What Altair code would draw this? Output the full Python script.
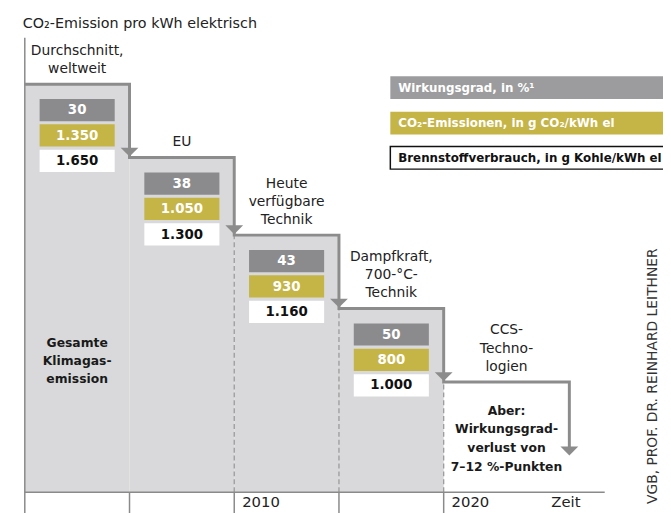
import altair as alt
import pandas as pd

# ---------------- Daten ----------------
titel = "CO₂-Emission pro kWh elektrisch"
stufen_namen = ["Durchschnitt,\nweltweit", "EU", "Heute\nverfügbare\nTechnik",
                "Dampfkraft,\n700-°C-\nTechnik", "CCS-\nTechno-\nlogien"]
stufen_von = [2000, 2005, 2010, 2015, 2020]
stufen_bis = [2005, 2010, 2015, 2020, 2026]
emission_niveau = [100, 82, 63, 45, 27]      # schematische Stufenhöhe
ccs_pfeil_bis = 9
wirkungsgrad = ["30", "38", "43", "50"]
co2_emission = ["1.350", "1.050", "930", "800"]
brennstoff = ["1.650", "1.300", "1.160", "1.000"]
zeit_ticks = [2005, 2010, 2015, 2020]
zeit_labels = ["", "2010", "", "2020"]
zeit_titel = "Zeit"
legende_texte = ["Wirkungsgrad, in %¹", "CO₂-Emissionen, in g CO₂/kWh el",
                 "Brennstoffverbrauch, in g Kohle/kWh el"]
gesamt_text = ["Gesamte", "Klimagas-", "emission"]
aber_text = ["Aber:", "Wirkungsgrad-", "verlust von", "7–12 %-Punkten"]
quelle = "VGB, PROF. DR. REINHARD LEITHNER"

# ---------------- Layout ----------------
W, H = 663, 505
PXX, X0 = 21.2, 17          # px per year, plot px of year 2000
PXY, Y0 = 4.13, 487         # px per level unit, plot px of level 0
xs = alt.Scale(domain=[2000 - X0 / PXX, 2000 + (W - X0) / PXX], nice=False, zero=False)
ys = alt.Scale(domain=[-(H - Y0) / PXY, Y0 / PXY], nice=False, zero=False)

def dx(p): return p / PXX
def dy(p): return p / PXY
def px_x(p): return 2000 + (p - 25) / PXX     # page px -> year
def px_y(p): return (495 - p) / PXY           # page px -> level

GRAU_FLAECHE = "#d9d9db"
GRAU_LINIE = "#8c8c8c"
GRAU_BOX = "#8b8b8d"
GOLD = "#c5b446"
FONT = "DejaVu Sans"

X = lambda f="x": alt.X(f"{f}:Q", scale=xs, axis=None)
Y = lambda f="y": alt.Y(f"{f}:Q", scale=ys, axis=None)

# gray area
fill_df = pd.DataFrame({"x": stufen_von[:4], "x2": stufen_bis[:4],
                        "y": [0] * 4, "y2": emission_niveau[:4]})
fill = alt.Chart(fill_df).mark_rect(color=GRAU_FLAECHE).encode(
    x=X(), x2="x2:Q", y=Y(), y2="y2:Q")

# dashed verticals
dash_df = pd.DataFrame({"x": stufen_von[2:], "y": [0] * 3, "y2": emission_niveau[2:]})
dashes = alt.Chart(dash_df).mark_rule(color="#9a9a9a", strokeDash=[5, 3], strokeWidth=1.3).encode(
    x=X(), y=Y(), y2="y2:Q")

# axes
xaxis = alt.Chart(pd.DataFrame({"x": [2000], "x2": [px_x(612)], "y": [0]})).mark_rule(
    color="#8a8a8a", strokeWidth=1.5).encode(x=X(), x2="x2:Q", y=Y())
yaxis = alt.Chart(pd.DataFrame({"x": [2000], "y": [px_y(520)], "y2": [px_y(35)]})).mark_rule(
    color="#8a8a8a", strokeWidth=1.5).encode(x=X(), y=Y(), y2="y2:Q")
tick_df = pd.DataFrame({"x": zeit_ticks, "y": [0] * 4, "y2": [px_y(520)] * 4})
ticks = alt.Chart(tick_df).mark_rule(color="#8a8a8a", strokeWidth=1.5).encode(
    x=X(), y=Y(), y2="y2:Q")
tl_df = pd.DataFrame({"x": [t + dx(8) for t in zeit_ticks] + [px_x(558)],
                      "y": [px_y(505)] * 5, "t": zeit_labels + [zeit_titel]})
ticklabels = alt.Chart(tl_df).mark_text(font=FONT, fontSize=15, align="left",
                                        baseline="middle", color="#222").encode(
    x=X(), y=Y(), text="t:N")

# value boxes
box_rows, box_text = [], []
fills = [GRAU_BOX, GOLD, "#ffffff"]
tcols = ["#ffffff", "#ffffff", "#111111"]
for i in range(4):
    vals = [wirkungsgrad[i], co2_emission[i], brennstoff[i]]
    for k in range(3):
        top = emission_niveau[i] - dy(15 + 25.7 * k)
        box_rows.append({"x": stufen_von[i] + dx(15), "x2": stufen_von[i] + dx(91),
                         "y": top, "y2": top - dy(22.5), "c": fills[k]})
        box_text.append({"x": stufen_von[i] + dx(53), "y": top - dy(11.5),
                         "t": vals[k], "c": tcols[k]})
boxes = alt.Chart(pd.DataFrame(box_rows)).mark_rect().encode(
    x=X(), x2="x2:Q", y=Y(), y2="y2:Q", color=alt.Color("c:N", scale=None))
boxtexts = alt.Chart(pd.DataFrame(box_text)).mark_text(
    font=FONT, fontWeight="bold", fontSize=13.5, align="center", baseline="middle").encode(
    x=X(), y=Y(), text="t:N", color=alt.Color("c:N", scale=None))

# step line
pts = [(2000, emission_niveau[0])]
for i in range(5):
    nxt = emission_niveau[i + 1] if i < 4 else ccs_pfeil_bis + dy(4)
    pts.append((stufen_bis[i], emission_niveau[i]))
    pts.append((stufen_bis[i], nxt))
line_df = pd.DataFrame({"x": [p[0] for p in pts], "y": [p[1] for p in pts],
                        "o": list(range(len(pts)))})
stepline = alt.Chart(line_df).mark_line(color=GRAU_LINIE, strokeWidth=3,
                                        strokeJoin="miter", strokeCap="butt").encode(
    x=X(), y=Y(), order="o:O")

# arrow heads
arr = []
for i in range(5):
    if i < 4:
        arr.append({"x": stufen_bis[i], "y": emission_niveau[i + 1] + dy(5.5)})
    else:
        arr.append({"x": stufen_bis[i], "y": ccs_pfeil_bis + dy(4.5)})
arrows = alt.Chart(pd.DataFrame(arr)).mark_point(
    shape="M-1,-0.5L1,-0.5L0,0.5Z", size=324, filled=True, color=GRAU_LINIE,
    opacity=1, strokeWidth=0).encode(x=X(), y=Y())

# step labels
lab = []
for i, name in enumerate(stufen_namen):
    lines = name.split("\n")
    n = len(lines)
    for k, ln in enumerate(lines):
        lab.append({"x": (stufen_von[i] + stufen_bis[i]) / 2,
                    "y": emission_niveau[i] + dy(15.5 + (n - 1 - k) * 18.3), "t": ln})
labels = alt.Chart(pd.DataFrame(lab)).mark_text(
    font=FONT, fontSize=14, align="center", baseline="middle", color="#222").encode(
    x=X(), y=Y(), text="t:N")

# bold annotations
ann = []
for k, ln in enumerate(gesamt_text):
    ann.append({"x": (stufen_von[0] + stufen_bis[0]) / 2, "y": px_y(344 + 18 * k), "t": ln})
for k, ln in enumerate(aber_text):
    ann.append({"x": (stufen_von[4] + stufen_bis[4]) / 2, "y": px_y(412.5 + 19 * k), "t": ln})
annot = alt.Chart(pd.DataFrame(ann)).mark_text(
    font=FONT, fontSize=12.5, fontWeight="bold", align="center", baseline="middle",
    color="#1a1a1a").encode(x=X(), y=Y(), text="t:N")

# legend
leg_tops = [74, 110, 145]
leg_df = pd.DataFrame({"x": [px_x(395)] * 2, "x2": [px_x(690)] * 2,
                       "y": [px_y(t) for t in leg_tops[:2]],
                       "y2": [px_y(t + 23) for t in leg_tops[:2]],
                       "c": ["#9c9c9e", GOLD]})
legboxes = alt.Chart(leg_df).mark_rect().encode(
    x=X(), x2="x2:Q", y=Y(), y2="y2:Q", color=alt.Color("c:N", scale=None))
legwhite = alt.Chart(pd.DataFrame({"x": [px_x(395)], "x2": [px_x(690)],
                                   "y": [px_y(145)], "y2": [px_y(168)]})).mark_rect(
    fill="white", stroke="#111", strokeWidth=1.5).encode(x=X(), x2="x2:Q", y=Y(), y2="y2:Q")
legtext = alt.Chart(pd.DataFrame({"x": [px_x(403)] * 3,
                                  "y": [px_y(t + 11.5) for t in leg_tops],
                                  "t": legende_texte,
                                  "c": ["#ffffff", "#ffffff", "#111111"]})).mark_text(
    font=FONT, fontSize=12, fontWeight="bold", align="left", baseline="middle").encode(
    x=X(), y=Y(), text="t:N", color=alt.Color("c:N", scale=None))

# title & source
title = alt.Chart(pd.DataFrame({"x": [px_x(23)], "y": [px_y(21)], "t": [titel]})).mark_text(
    font=FONT, fontSize=14.5, align="left", baseline="middle", color="#222").encode(
    x=X(), y=Y(), text="t:N")
source = alt.Chart(pd.DataFrame({"x": [px_x(661)], "y": [px_y(507)], "t": [quelle]})).mark_text(
    font=FONT, fontSize=14, align="left", baseline="middle", angle=270, color="#333").encode(
    x=X(), y=Y(), text="t:N")

chart = alt.layer(
    fill, dashes, xaxis, yaxis, ticks, ticklabels, boxes, boxtexts, stepline, arrows,
    labels, annot, legboxes, legwhite, legtext, title, source
).properties(
    width=W, height=H, autosize=alt.AutoSizeParams(type="none"), padding=0,
    background="white"
).configure_view(stroke=None)

chart.save("out.html", embed_options={"renderer": "svg", "actions": False})
